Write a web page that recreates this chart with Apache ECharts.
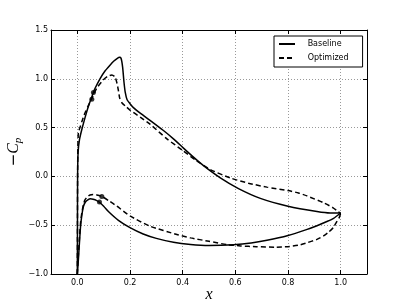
<!DOCTYPE html>
<html><head><meta charset="utf-8">
<script src="https://cdn.jsdelivr.net/npm/echarts@6/dist/echarts.min.js"></script>
<style>html,body{margin:0;padding:0;background:#fff}#c{width:407px;height:305px}</style>
</head><body><div id="c"></div><script>
const xTicks=[0,0.2,0.4,0.6,0.8,1.0];
const yTicks=[-1.0,-0.5,0,0.5,1.0,1.5];
const legendNames=['Baseline','Optimized'];
const baselineUpper=[[0,-1],[0.0005,-0.5],[0.001,0],[0.003,0.25],[0.008,0.375],[0.017,0.48],[0.029,0.60],[0.040,0.70],[0.055,0.815],[0.067,0.90],[0.086,1.00],[0.105,1.08],[0.124,1.14],[0.140,1.185],[0.152,1.21],[0.160,1.22],[0.166,1.21],[0.172,1.12],[0.177,0.97],[0.182,0.86],[0.189,0.785],[0.200,0.745],[0.213,0.705],[0.240,0.645],[0.276,0.575],[0.327,0.47],[0.365,0.385],[0.403,0.29],[0.440,0.20],[0.479,0.11],[0.543,-0.015],[0.612,-0.125],[0.695,-0.225],[0.80,-0.305],[0.91,-0.36],[0.96,-0.375],[1.0,-0.375]];
const baselineLower=[[0,-1],[0.004,-0.85],[0.008,-0.68],[0.012,-0.52],[0.017,-0.40],[0.023,-0.31],[0.030,-0.265],[0.040,-0.24],[0.050,-0.23],[0.060,-0.235],[0.072,-0.245],[0.084,-0.265],[0.10,-0.305],[0.12,-0.365],[0.156,-0.45],[0.20,-0.525],[0.25,-0.59],[0.30,-0.635],[0.365,-0.675],[0.43,-0.697],[0.50,-0.707],[0.593,-0.70],[0.66,-0.683],[0.72,-0.655],[0.80,-0.605],[0.87,-0.545],[0.91,-0.505],[0.95,-0.46],[0.973,-0.43],[1.0,-0.375]];
const optimizedUpper=[[0,-1],[0.0005,-0.5],[0.001,0],[0.002,0.3],[0.004,0.45],[0.01,0.50],[0.017,0.56],[0.029,0.65],[0.040,0.715],[0.055,0.80],[0.074,0.905],[0.099,0.99],[0.115,1.025],[0.131,1.04],[0.143,1.02],[0.150,0.96],[0.156,0.88],[0.161,0.80],[0.169,0.755],[0.185,0.715],[0.20,0.68],[0.240,0.605],[0.276,0.535],[0.34,0.385],[0.403,0.26],[0.45,0.165],[0.505,0.07],[0.58,-0.015],[0.65,-0.07],[0.72,-0.11],[0.80,-0.145],[0.84,-0.17],[0.872,-0.2],[0.935,-0.27],[0.97,-0.32],[0.99,-0.36],[1.0,-0.38]];
const optimizedLower=[[0,-1],[0.003,-0.85],[0.0076,-0.65],[0.012,-0.48],[0.017,-0.375],[0.023,-0.29],[0.029,-0.24],[0.038,-0.21],[0.048,-0.19],[0.06,-0.185],[0.074,-0.19],[0.093,-0.205],[0.12,-0.25],[0.15,-0.305],[0.20,-0.405],[0.276,-0.51],[0.378,-0.595],[0.43,-0.63],[0.50,-0.665],[0.57,-0.70],[0.62,-0.712],[0.68,-0.72],[0.75,-0.725],[0.80,-0.72],[0.84,-0.705],[0.872,-0.68],[0.91,-0.645],[0.935,-0.61],[0.955,-0.57],[0.973,-0.52],[0.986,-0.46],[0.995,-0.42],[1.0,-0.375]];
const baselineMarkers=[[0.061,0.86],[0.084,-0.263]];
const optimizedMarkers=[[0.055,0.79],[0.093,-0.205]];

const chart=echarts.init(document.getElementById('c'),null,{renderer:'canvas'});
const fmt=v=>(v<0?'\u2212':'')+Math.abs(v).toFixed(1);
const lab={fontSize:8,color:'#000',fontFamily:'DejaVu Sans'};
const grid={show:true,lineStyle:{color:'#999',width:1,type:[1,2]}};
const tick={inside:true,length:4,lineStyle:{color:'#000'}};
const line={show:true,onZero:false,lineStyle:{color:'#000',width:1}};
function lineSeries(name,data,dashed){
  return {type:'line',name:name,data:data,symbol:'none',smooth:0.2,
    lineStyle:{color:'#000',width:1.5,type:dashed?[5,3]:'solid'},itemStyle:{color:'#000'},z:3};
}
const option={
  animation:false,
  grid:{left:51,right:40,top:30,bottom:31,outerBoundsMode:'none',containLabel:false},
  xAxis:[
    {type:'value',min:-0.1,max:1.1,axisLine:line,
     axisTick:Object.assign({customValues:xTicks},tick),
     axisLabel:Object.assign({customValues:xTicks,formatter:fmt,margin:5},lab),
     splitLine:grid,
     name:'x',nameLocation:'middle',nameGap:13,nameMoveOverlap:false,
     nameTextStyle:{fontFamily:'Liberation Serif',fontStyle:'italic',fontSize:16,color:'#000'}},
    {type:'value',position:'top',min:-0.1,max:1.1,axisLine:line,
     axisTick:Object.assign({customValues:xTicks},tick),axisLabel:{show:false},splitLine:{show:false}}
  ],
  yAxis:[
    {type:'value',min:-1,max:1.5,interval:0.5,axisLine:line,axisTick:tick,
     axisLabel:Object.assign({formatter:fmt,margin:3},lab),
     splitLine:grid,
     name:'{n|\u2212}{m|C}{s|p}',nameLocation:'middle',nameRotate:90,nameGap:27,nameMoveOverlap:false,
     nameTextStyle:{rich:{
       n:{fontFamily:'DejaVu Sans',fontSize:15,color:'#000'},
       m:{fontFamily:'Liberation Serif',fontStyle:'italic',fontSize:16,color:'#000'},
       s:{fontFamily:'Liberation Serif',fontStyle:'italic',fontSize:11,color:'#000',padding:[9,0,0,0]}}}},
    {type:'value',position:'right',min:-1,max:1.5,interval:0.5,axisLine:line,axisTick:tick,
     axisLabel:{show:false},splitLine:{show:false}}
  ],
  legend:{data:legendNames,orient:'vertical',left:274,top:36,padding:[4,14,5,4],itemGap:6,
    itemWidth:16,itemHeight:8,borderColor:'#000',borderWidth:1,backgroundColor:'#fff',
    itemStyle:{opacity:0},
    formatter:n=>'   '+n,textStyle:lab},
  series:[
    lineSeries('Baseline',baselineUpper,false),
    lineSeries('Baseline',baselineLower,false),
    lineSeries('Optimized',optimizedUpper,true),
    lineSeries('Optimized',optimizedLower,true),
    {type:'scatter',name:'bm',data:baselineMarkers,symbolSize:5,itemStyle:{color:'#000'},z:4},
    {type:'scatter',name:'om',data:optimizedMarkers,symbolSize:5,itemStyle:{color:'#000'},z:4}
  ]
};
chart.setOption(option);
</script></body></html>
